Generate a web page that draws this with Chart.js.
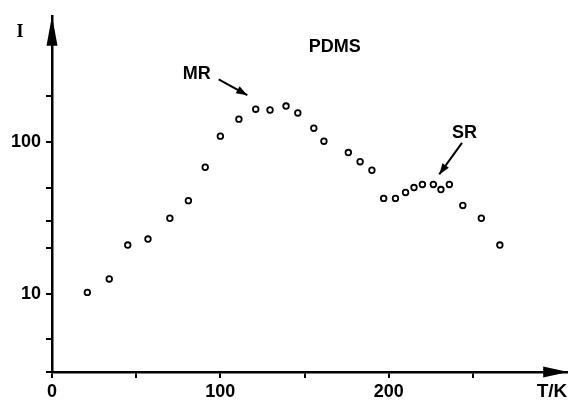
<!DOCTYPE html>
<html>
<head>
<meta charset="utf-8">
<script src="https://cdn.jsdelivr.net/npm/chart.js@4/dist/chart.umd.min.js"></script>
<style>
  html, body { margin: 0; padding: 0; background: #fff; }
  #wrap { width: 573px; height: 403px; }
</style>
</head>
<body>
<div id="wrap"><canvas id="chart" width="573" height="403"></canvas></div>
<script>
// PDMS: intensity I against temperature T/K, log scale on I
const temps = [21, 34, 45, 57, 70, 81, 91, 100, 111, 121, 129.5, 139, 146, 155.5, 161.5,
    176, 183, 190, 197, 204, 210, 215, 220, 226.5, 231, 236, 244, 255, 266];
const intensities = [10.2, 12.5, 20.9, 22.9, 31.4, 41, 68, 109, 141, 164, 162, 172, 155, 123, 101,
    85, 74, 65, 42.4, 42.4, 46.4, 50, 52.4, 52.4, 48.5, 52.4, 38.1, 31.4, 20.9];

// axis ticks
const xTickValues = [0, 50, 100, 150, 200, 250];
const xTickLabels = [0, 100, 200];
const yTickValues = [5, 10, 20, 30, 50, 100, 200];
const yTickLabels = [10, 100];
const xMin = 0, xMax = 306;
const yMin = 3.05, yMax = 676;

// text notes and pointer arrows, in data units
const notes = [
    { text: "PDMS", t: 168, i: 424 },
    { text: "MR", t: 86, i: 278 },
    { text: "SR", t: 245, i: 114 },
];
const pointers = [
    { from: [99, 258], to: [116, 203] },
    { from: [243.5, 98.5], to: [230, 61] },
];

const boldFont = { family: "'Liberation Sans', Arial, sans-serif", size: 18, weight: "bold" };

function arrowHead(ctx, x1, y1, x2, y2, len, half) {
    const a = Math.atan2(y2 - y1, x2 - x1);
    ctx.beginPath();
    ctx.moveTo(x2, y2);
    ctx.lineTo(x2 - len * Math.cos(a) + half * Math.sin(a), y2 - len * Math.sin(a) - half * Math.cos(a));
    ctx.lineTo(x2 - len * Math.cos(a) - half * Math.sin(a), y2 - len * Math.sin(a) + half * Math.cos(a));
    ctx.closePath();
    ctx.fill();
}

const decorPlugin = {
    id: "decor",
    afterDraw(chart) {
        const { ctx, chartArea } = chart;
        const x = chart.scales.x, y = chart.scales.y;
        ctx.save();
        ctx.fillStyle = "#000";
        ctx.strokeStyle = "#000";

        // axis arrows
        arrowHead(ctx, chartArea.left, chartArea.bottom, chartArea.left, chartArea.top, 30, 5.5);
        arrowHead(ctx, chartArea.left, chartArea.bottom, chartArea.right + 1, chartArea.bottom, 25, 5.5);

        // axis titles
        ctx.font = "bold 18px 'Liberation Serif', serif";
        ctx.textAlign = "center";
        ctx.textBaseline = "middle";
        ctx.fillText("I", 20, 32);
        ctx.font = "bold 19px 'Liberation Sans', Arial, sans-serif";
        ctx.fillText("T/K", 552, 392);

        // notes
        ctx.font = "bold 18px 'Liberation Sans', Arial, sans-serif";
        notes.forEach((n) => {
            ctx.fillText(n.text, x.getPixelForValue(n.t), y.getPixelForValue(n.i));
        });

        // pointer arrows
        ctx.lineWidth = 2;
        pointers.forEach((p) => {
            const x1 = x.getPixelForValue(p.from[0]), y1 = y.getPixelForValue(p.from[1]);
            const x2 = x.getPixelForValue(p.to[0]), y2 = y.getPixelForValue(p.to[1]);
            ctx.beginPath();
            ctx.moveTo(x1, y1);
            ctx.lineTo(x2, y2);
            ctx.stroke();
            arrowHead(ctx, x1, y1, x2, y2, 11, 4);
        });
        ctx.restore();
    },
};

new Chart(document.getElementById("chart").getContext("2d"), {
    type: "scatter",
    data: {
        datasets: [
            {
                label: "PDMS",
                data: temps.map((t, k) => ({ x: t, y: intensities[k] })),
                pointRadius: 2.8,
                pointBorderWidth: 1.8,
                pointBorderColor: "#000",
                pointBackgroundColor: "#fff",
                showLine: false,
            },
        ],
    },
    options: {
        responsive: false,
        animation: false,
        layout: { padding: { top: 13, right: 2, left: 0, bottom: 0 } },
        plugins: {
            legend: { display: false },
            tooltip: { enabled: false },
        },
        scales: {
            x: {
                type: "linear",
                min: xMin,
                max: xMax,
                afterBuildTicks: (scale) => {
                    scale.ticks = xTickValues.map((v) => ({ value: v }));
                },
                afterFit: (scale) => {
                    scale.height = 31;
                },
                ticks: {
                    autoSkip: false,
                    maxRotation: 0,
                    padding: 3,
                    color: "#000",
                    font: boldFont,
                    callback: (v) => (xTickLabels.includes(v) ? String(v) : ""),
                },
                grid: {
                    drawOnChartArea: false,
                    drawTicks: true,
                    tickLength: 6,
                    color: "#000",
                    lineWidth: 2,
                },
                border: { display: true, color: "#000", width: 2.5 },
            },
            y: {
                type: "logarithmic",
                min: yMin,
                max: yMax,
                afterBuildTicks: (scale) => {
                    scale.ticks = [yMin].concat(yTickValues).map((v) => ({ value: v }));
                },
                afterFit: (scale) => {
                    scale.width = 52;
                },
                ticks: {
                    autoSkip: false,
                    padding: 5,
                    color: "#000",
                    font: boldFont,
                    callback: (v) => (yTickLabels.includes(v) ? String(v) : ""),
                },
                grid: {
                    drawOnChartArea: false,
                    drawTicks: true,
                    tickLength: 6,
                    color: "#000",
                    lineWidth: 2,
                },
                border: { display: true, color: "#000", width: 2.5 },
            },
        },
    },
    plugins: [decorPlugin],
});
</script>
</body>
</html>
